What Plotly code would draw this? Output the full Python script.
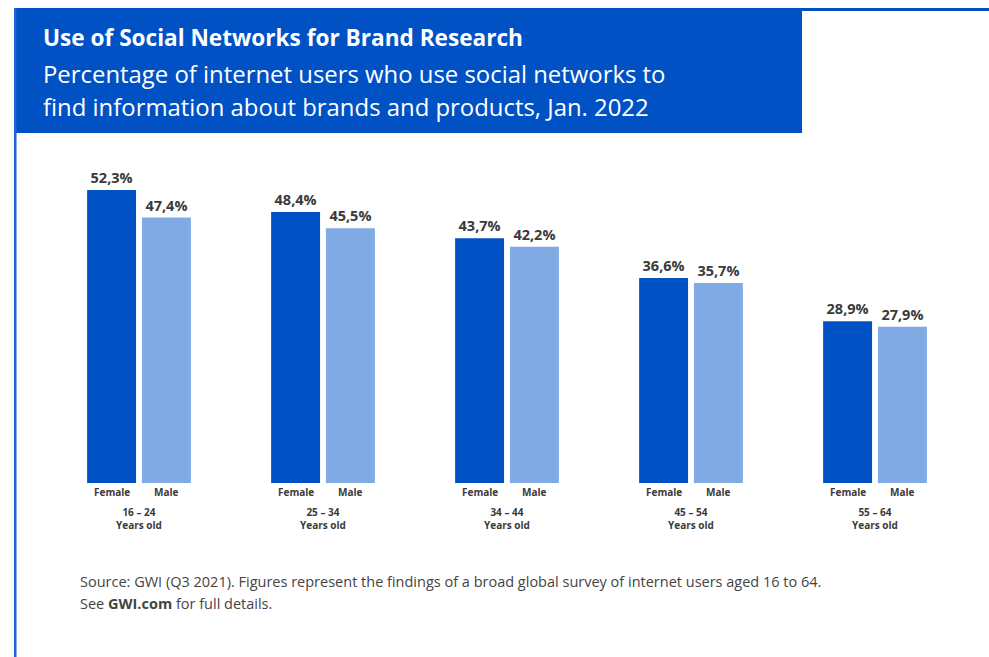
import plotly.graph_objects as go

# Data
age_groups = ["16 – 24", "25 – 34", "34 – 44", "45 – 54", "55 – 64"]
female = [52.3, 48.4, 43.7, 36.6, 28.9]
male = [47.4, 45.5, 42.2, 35.7, 27.9]
series_names = ["Female", "Male"]

W, H = 989, 657
DARK_BLUE = "#0052C4"
LIGHT_BLUE = "#80AAE3"
TEXT = "#3a3a3a"
FONT = "Open Sans"


def px(x):
    return x / W


def py(y):
    return 1 - y / H


def pct(v):
    return f"{v:.1f}".replace(".", ",") + "%"


idx = list(range(len(age_groups)))
off = 0.149
bw = 0.266

fig = go.Figure()
for name, vals, col, sgn in [(series_names[0], female, DARK_BLUE, -1), (series_names[1], male, LIGHT_BLUE, 1)]:
    fig.add_trace(go.Bar(
        x=[i + sgn * off for i in idx], y=vals, width=bw, name=name,
        marker=dict(color=col, line=dict(width=0)),
        text=[pct(v) for v in vals], textposition="outside", cliponaxis=False,
        textfont=dict(family=FONT, size=14.5, color=TEXT, weight="bold"),
        hoverinfo="skip",
    ))

annotations = []
for i, g in enumerate(age_groups):
    for name, sgn in [(series_names[0], -1), (series_names[1], 1)]:
        annotations.append(dict(
            x=i + sgn * off, y=0, xref="x", yref="y", text=f"<b>{name}</b>",
            showarrow=False, yanchor="top", yshift=0,
            font=dict(family=FONT, size=10, color=TEXT)))
    annotations.append(dict(
        x=i, y=0, xref="x", yref="y", text=f"<b>{g}</b><br><b>Years old</b>",
        showarrow=False, yanchor="top", yshift=-20,
        font=dict(family=FONT, size=10, color=TEXT)))


def line(x, ycenter, text, size, color, bold=False):
    return dict(x=px(x), y=py(ycenter), xref="paper", yref="paper", xanchor="left",
                yanchor="middle", text=f"<b>{text}</b>" if bold else text, showarrow=False,
                font=dict(family=FONT, size=size, color=color))


# Header and footer text
annotations += [
    line(41, 37, "Use of Social Networks for Brand Research", 22.6, "white", bold=True),
    line(41, 73, "Percentage of internet users who use social networks to", 23.9, "white"),
    line(41, 106, "find information about brands and products, Jan. 2022", 23.9, "white"),
    line(78, 581, "Source: GWI (Q3 2021). Figures represent the findings of a broad global survey of internet users aged 16 to 64.", 14.5, "#444444"),
    line(78, 603, "See <b>GWI.com</b> for full details.", 14.5, "#444444"),
]

shapes = [
    dict(type="rect", xref="paper", yref="paper", x0=px(14), x1=px(802), y0=py(133), y1=py(8),
         fillcolor=DARK_BLUE, line=dict(width=0), layer="below"),
    dict(type="rect", xref="paper", yref="paper", x0=px(14), x1=px(16.5), y0=0, y1=py(8),
         fillcolor="#1f63d6", line=dict(width=0), layer="below"),
    dict(type="rect", xref="paper", yref="paper", x0=px(802), x1=1, y0=py(11), y1=py(8),
         fillcolor=DARK_BLUE, line=dict(width=0), layer="below"),
]

fig.update_layout(
    width=W, height=H, margin=dict(l=0, r=0, t=0, b=0),
    paper_bgcolor="white", plot_bgcolor="white",
    showlegend=False, barmode="overlay",
    annotations=annotations, shapes=shapes,
    xaxis=dict(domain=[px(47), px(967)], range=[-0.5, 4.5], visible=False, fixedrange=True),
    yaxis=dict(domain=[py(483), py(147)], range=[0, 60], visible=False, fixedrange=True),
)

fig.write_html("out.html")
